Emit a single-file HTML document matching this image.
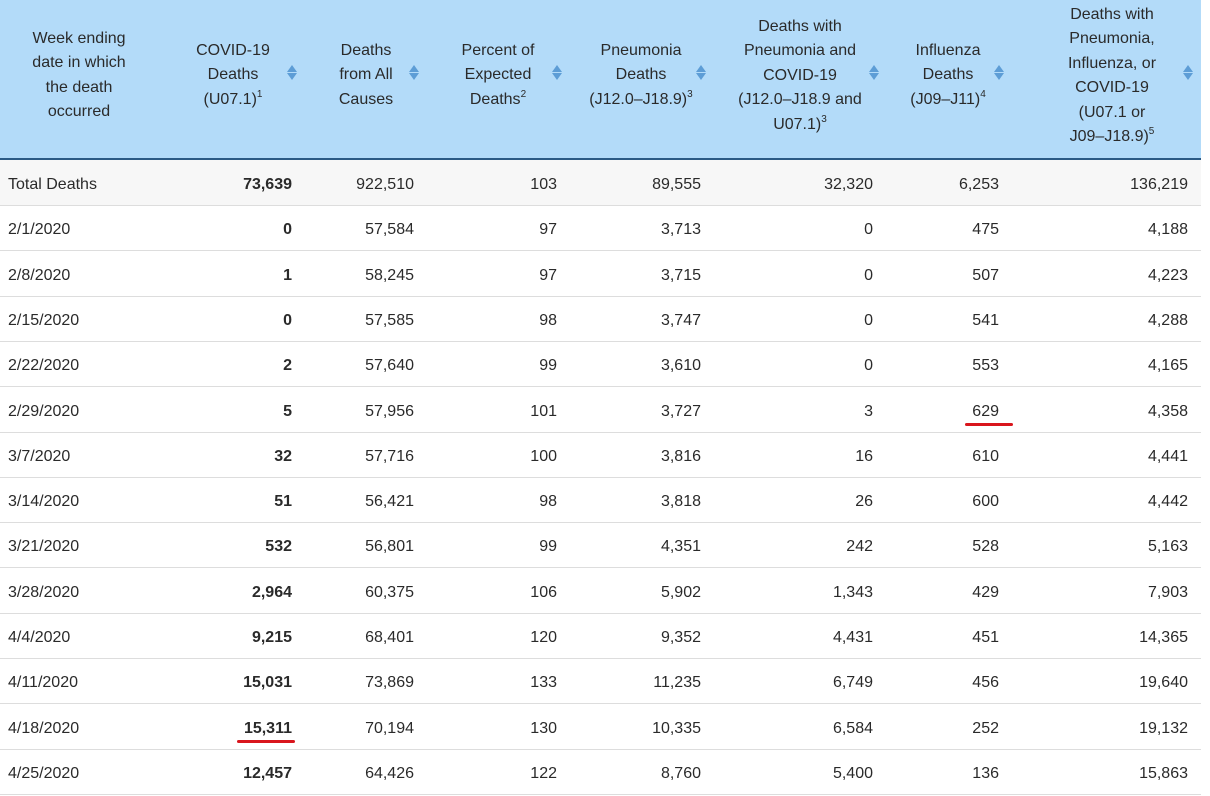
<!DOCTYPE html>
<html><head><meta charset="utf-8"><style>
body{margin:0;width:1210px;height:795px;background:#fff;font-family:"Liberation Sans",Arial,sans-serif;color:#2a2a2a;position:relative;overflow:hidden}
#hd{position:absolute;left:0;top:0;width:1201px;height:158px;background:#b3dbf9;border-bottom:2px solid #2b5a85}
.h{position:absolute;text-align:center;font-size:16px;line-height:24.4px;color:#2a2a2a;transform:translateX(-50%);white-space:nowrap}
.h sup{font-size:10px;vertical-align:top;line-height:10px;position:relative;top:2px}
.s{position:absolute;width:0;height:0}
.s:before{content:"";position:absolute;left:-5px;top:-8px;border-left:5px solid transparent;border-right:5px solid transparent;border-bottom:7px solid #5d9dd6}
.s:after{content:"";position:absolute;left:-5px;top:0px;border-left:5px solid transparent;border-right:5px solid transparent;border-top:7px solid #5d9dd6}
.r{position:absolute;left:0;width:1201px;height:45px;border-bottom:1px solid #ddd;font-size:16px}
.r div{position:absolute;top:2px;line-height:45px;text-align:right}
.r .d{left:8px;text-align:left}
.ul{position:absolute;height:3px;background:#d9161d;border-radius:2px}
</style></head><body>
<div id="hd">
<div class="h" style="left:79px;top:27px">Week ending<br>date in which<br>the death<br>occurred</div>
<div class="h" style="left:233px;top:39px">COVID-19<br>Deaths<br>(U07.1)<sup>1</sup></div>
<div class="h" style="left:366px;top:39px">Deaths<br>from All<br>Causes</div>
<div class="h" style="left:498px;top:39px">Percent of<br>Expected<br>Deaths<sup>2</sup></div>
<div class="h" style="left:641px;top:39px">Pneumonia<br>Deaths<br>(J12.0–J18.9)<sup>3</sup></div>
<div class="h" style="left:800px;top:15px">Deaths with<br>Pneumonia and<br>COVID-19<br>(J12.0–J18.9 and<br>U07.1)<sup>3</sup></div>
<div class="h" style="left:948px;top:39px">Influenza<br>Deaths<br>(J09–J11)<sup>4</sup></div>
<div class="h" style="left:1112px;top:3px">Deaths with<br>Pneumonia,<br>Influenza, or<br>COVID-19<br>(U07.1 or<br>J09–J18.9)<sup>5</sup></div>
<div class="s" style="left:292px;top:73px"></div>
<div class="s" style="left:414px;top:73px"></div>
<div class="s" style="left:557px;top:73px"></div>
<div class="s" style="left:701px;top:73px"></div>
<div class="s" style="left:874px;top:73px"></div>
<div class="s" style="left:999px;top:73px"></div>
<div class="s" style="left:1188px;top:73px"></div>
</div>
<div id="rows"></div>
<script>
var data=[["Total Deaths","73,639","922,510","103","89,555","32,320","6,253","136,219"],
["2/1/2020","0","57,584","97","3,713","0","475","4,188"],
["2/8/2020","1","58,245","97","3,715","0","507","4,223"],
["2/15/2020","0","57,585","98","3,747","0","541","4,288"],
["2/22/2020","2","57,640","99","3,610","0","553","4,165"],
["2/29/2020","5","57,956","101","3,727","3","629","4,358"],
["3/7/2020","32","57,716","100","3,816","16","610","4,441"],
["3/14/2020","51","56,421","98","3,818","26","600","4,442"],
["3/21/2020","532","56,801","99","4,351","242","528","5,163"],
["3/28/2020","2,964","60,375","106","5,902","1,343","429","7,903"],
["4/4/2020","9,215","68,401","120","9,352","4,431","451","14,365"],
["4/11/2020","15,031","73,869","133","11,235","6,749","456","19,640"],
["4/18/2020","15,311","70,194","130","10,335","6,584","252","19,132"],
["4/25/2020","12,457","64,426","122","8,760","5,400","136","15,863"]];
var rights=[292,414,557,701,873,999,1188];
var h="";
data.forEach(function(r,i){
 var top=160+i*45.3;
 h+='<div class="r" style="top:'+top+'px;'+(i==0?'background:#f7f7f7;':'')+'"><div class="d">'+r[0]+'</div>';
 for(var j=1;j<8;j++){h+='<div style="right:'+(1201-rights[j-1])+'px;'+(j==1?'font-weight:bold;':'')+'">'+r[j]+'</div>';}
 h+='</div>';
});
h+='<div class="ul" style="left:965px;top:423px;width:48px"></div>';
h+='<div class="ul" style="left:237px;top:740px;width:58px"></div>';
document.getElementById("rows").innerHTML=h;
</script>
</body></html>
